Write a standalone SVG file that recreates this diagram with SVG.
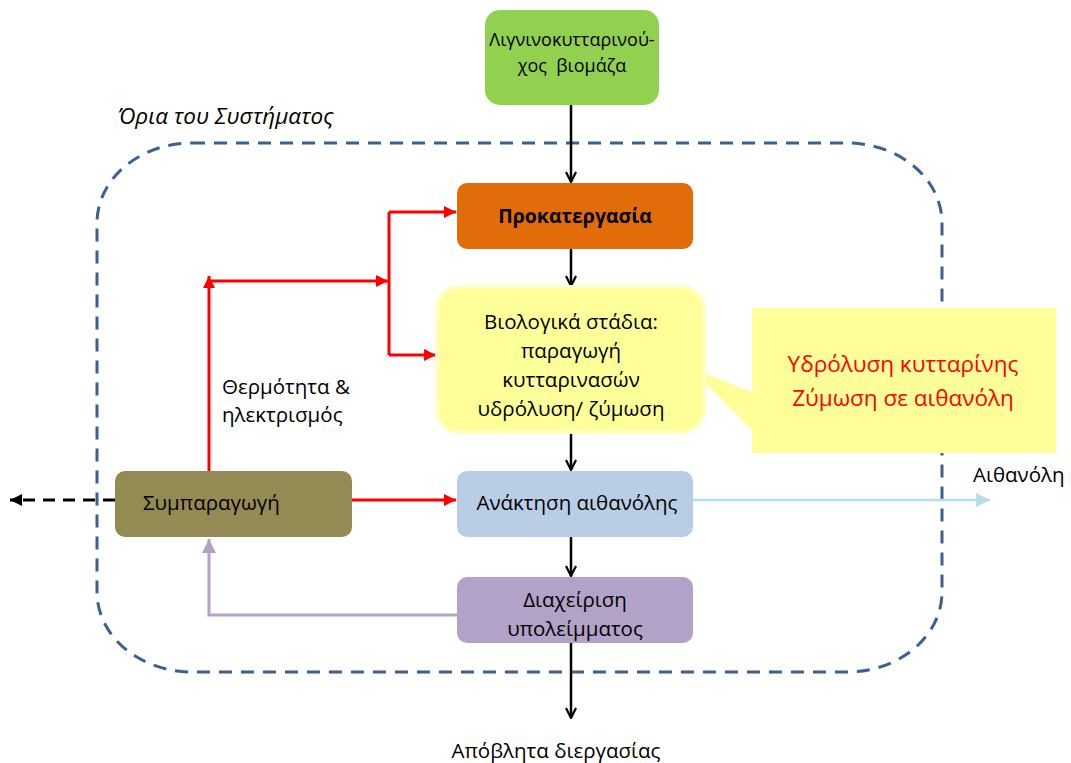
<svg xmlns="http://www.w3.org/2000/svg" width="1071" height="763" viewBox="0 0 1071 763">
<defs>
<style>
text{font-family:"Open Sans","Noto Sans","DejaVu Sans",sans-serif;fill:#000;}
.t{font-size:20.5px;text-anchor:middle;}
.lbl{font-size:20.5px;}
.small{font-size:18px;}
.bold{font-size:19.5px;font-weight:bold;}
.red{fill:#ff0000;font-size:22.5px;text-anchor:middle;}
.blk{stroke:#000;stroke-width:2.5;fill:none;}
.rd{stroke:#ff0000;stroke-width:3;fill:none;}
</style>
<marker id="open" viewBox="0 0 12 12" refX="11" refY="6" markerWidth="12" markerHeight="12" markerUnits="userSpaceOnUse" orient="auto">
<path d="M1,1 L11,6 L1,11" fill="none" stroke="#000" stroke-width="2.2"/>
</marker>
<marker id="redA" viewBox="0 0 10 10" refX="10" refY="5" markerWidth="12" markerHeight="12" markerUnits="userSpaceOnUse" orient="auto">
<path d="M0,0 L10,5 L0,10 z" fill="#ff0000"/>
</marker>
<marker id="blueA" viewBox="0 0 10 10" refX="10" refY="5" markerWidth="14" markerHeight="14" markerUnits="userSpaceOnUse" orient="auto">
<path d="M0,0 L10,5 L0,10 z" fill="#b7dde8"/>
</marker>
<marker id="purA" viewBox="0 0 10 10" refX="10" refY="5" markerWidth="14" markerHeight="14" markerUnits="userSpaceOnUse" orient="auto">
<path d="M0,0 L10,5 L0,10 z" fill="#b3a2c7"/>
</marker>
<marker id="blkA" viewBox="0 0 10 10" refX="10" refY="5" markerWidth="12" markerHeight="12" markerUnits="userSpaceOnUse" orient="auto">
<path d="M0,0 L10,5 L0,10 z" fill="#000"/>
</marker>
</defs>
<rect width="1071" height="763" fill="#fff"/>

<g id="boundary">
<rect x="97" y="143" width="845" height="529" rx="95" ry="80" fill="none" stroke="#3c6190" stroke-width="3" stroke-dasharray="13 9"/>
<text x="118" y="124" font-style="italic" font-size="22.5">Όρια του Συστήματος</text>
</g>

<g id="connectors">
<line x1="571" y1="105" x2="571" y2="182" class="blk" marker-end="url(#open)"/>
<line x1="571" y1="249" x2="571" y2="286" class="blk" marker-end="url(#open)"/>
<line x1="571" y1="432" x2="571" y2="470" class="blk" marker-end="url(#open)"/>
<line x1="571" y1="537" x2="571" y2="576" class="blk" marker-end="url(#open)"/>
<line x1="571" y1="643" x2="571" y2="718" class="blk" marker-end="url(#open)"/>
<polyline points="209,471 209,276" class="rd" marker-end="url(#redA)"/>
<polyline points="209,281 388,281" class="rd" marker-end="url(#redA)"/>
<polyline points="389,212 389,355" class="rd"/>
<polyline points="389,212 456,212" class="rd" marker-end="url(#redA)"/>
<polyline points="389,355 436,355" class="rd" marker-end="url(#redA)"/>
<polyline points="352,500 456,500" class="rd" marker-end="url(#redA)"/>
<polyline points="693,500 990,500" fill="none" stroke="#b7dde8" stroke-width="2.5" marker-end="url(#blueA)"/>
<polyline points="457,615 209,615 209,539" fill="none" stroke="#b3a2c7" stroke-width="3" marker-end="url(#purA)"/>
<polyline points="115,500 10,500" fill="none" stroke="#000" stroke-width="3" stroke-dasharray="12 8" marker-end="url(#blkA)"/>
</g>

<g id="biomass">
<rect x="485" y="10" width="174" height="95" rx="15" fill="#92d050"/>
<text class="t small" x="572" y="46">Λιγνινοκυτταρινού-</text>
<text class="t small" x="572" y="72" xml:space="preserve">χος  βιομάζα</text>
</g>

<g id="pretreatment">
<rect x="457" y="183" width="236" height="66" rx="10" fill="#e36c0a"/>
<text class="t bold" x="575" y="223">Προκατεργασία</text>
</g>

<g id="callout">
<polygon points="752,392 690,368 752,430" fill="#ffff99"/>
<rect x="752" y="308" width="304" height="145" fill="#ffff99"/>
<text class="red" x="903" y="372">Υδρόλυση κυτταρίνης</text>
<text class="red" x="903" y="406">Ζύμωση σε αιθανόλη</text>
</g>

<g id="biological">
<rect x="437" y="287" width="267" height="145" rx="22" fill="#ffff99" stroke="#ffffc4" stroke-width="4"/>
<text class="t" x="571" y="329">Βιολογικά στάδια:</text>
<text class="t" x="571" y="358">παραγωγή</text>
<text class="t" x="571" y="387">κυτταρινασών</text>
<text class="t" x="571" y="416">υδρόλυση/ ζύμωση</text>
</g>

<g id="recovery">
<rect x="457" y="471" width="236" height="66" rx="10" fill="#b9cde5"/>
<text class="t" x="577" y="510">Ανάκτηση αιθανόλης</text>
</g>

<g id="residue">
<rect x="457" y="577" width="236" height="66" rx="10" fill="#b3a2c7"/>
<text class="t" x="575" y="607">Διαχείριση</text>
<text class="t" x="575" y="636">υπολείμματος</text>
</g>

<g id="cogeneration">
<rect x="115" y="471" width="237" height="66" rx="10" fill="#948a54"/>
<text class="lbl" x="143" y="510">Συμπαραγωγή</text>
</g>

<g id="labels">
<text class="lbl" x="222" y="394">Θερμότητα &amp;</text>
<text class="lbl" x="222" y="422">ηλεκτρισμός</text>
<text class="lbl" x="973" y="482">Αιθανόλη</text>
<text class="t" x="556" y="758">Απόβλητα διεργασίας</text>
</g>
</svg>
